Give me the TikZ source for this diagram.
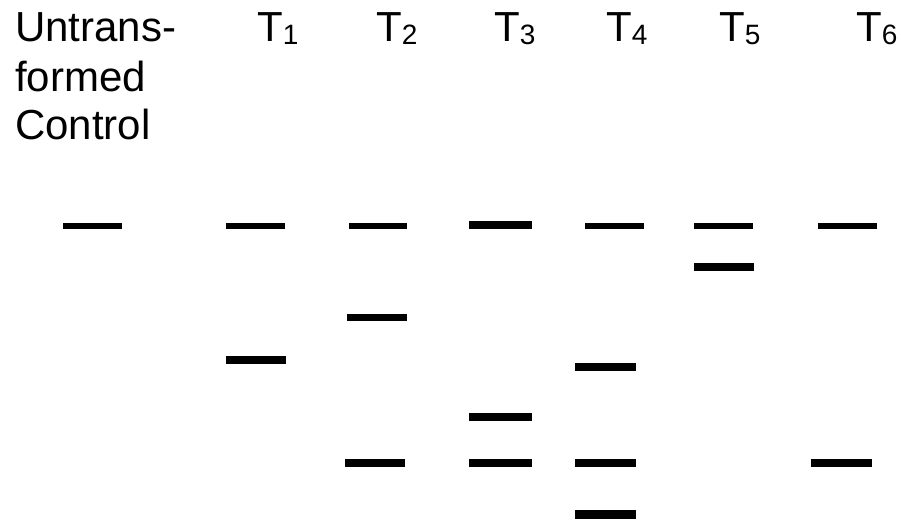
\documentclass[tikz,border=0pt]{standalone}
\usepackage{fontspec}
\setmainfont{Liberation Sans}
\newcommand\lanesub[1]{{\fontsize{28}{28}\selectfont\raisebox{-3pt}{#1}}}
\begin{document}
\begin{tikzpicture}[x=1pt,y=-1pt,
  band/.style={fill=black,draw=none,inner sep=0pt,outer sep=0pt,rectangle},
  lbl/.style={anchor=base west,inner sep=0pt,font=\fontsize{42}{49}\selectfont}]
\useasboundingbox (0,0) rectangle (901,526);
\fill[white] (0,0) rectangle (901,526);
\newcommand\bandnode[5]{\node[band,minimum width={(#3-#2)*1pt},minimum height={#5*1pt}] (#1) at ({(#2+#3)/2},#4) {};}
% labels
\node[lbl] (ctrl1) at (15,42) {Untrans-};
\node[lbl] (ctrl2) at (15,92) {formed};
\node[lbl] (ctrl3) at (15,140) {Control};
\node[lbl] (l1) at (257,42) {T\lanesub{1}};
\node[lbl] (l2) at (376,42) {T\lanesub{2}};
\node[lbl] (l3) at (494,42) {T\lanesub{3}};
\node[lbl] (l4) at (606,42) {T\lanesub{4}};
\node[lbl] (l5) at (719,42) {T\lanesub{5}};
\node[lbl] (l6) at (856,42) {T\lanesub{6}};
% bands
\bandnode{c1}{63}{122}{226}{6}
\bandnode{t1a}{226}{285}{226}{6}
\bandnode{t1b}{226}{286}{360}{8}
\bandnode{t2a}{349}{407}{226}{6}
\bandnode{t2b}{347}{407}{317.5}{7}
\bandnode{t2c}{345}{405}{463}{8}
\bandnode{t3a}{469}{532}{225}{8}
\bandnode{t3b}{469}{532}{417}{8}
\bandnode{t3c}{469}{532}{463}{8}
\bandnode{t4a}{585}{644}{226}{6}
\bandnode{t4b}{575}{636}{367}{8}
\bandnode{t4c}{575}{636}{463}{8}
\bandnode{t4d}{575}{636}{514}{9}
\bandnode{t5a}{694}{753}{226}{6}
\bandnode{t5b}{694}{754}{267}{8}
\bandnode{t6a}{818}{877}{226}{6}
\bandnode{t6b}{811}{872}{463}{8}
\end{tikzpicture}
\end{document}
